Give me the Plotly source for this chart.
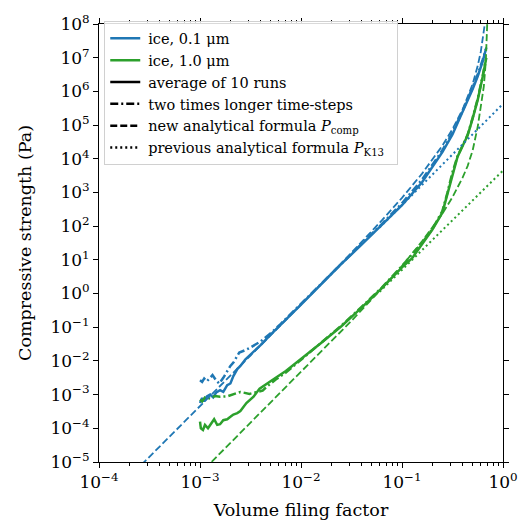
import plotly.graph_objects as go

BLUE = "#1f77b4"
GREEN = "#2ca02c"

# ---- ice 0.1 um : average of 10 runs (solid)
b_avg_x = [1.0e-3, 1.05e-3, 1.10e-3, 1.17e-3, 1.26e-3, 1.35e-3, 1.45e-3, 1.58e-3, 1.70e-3, 1.86e-3,
           2.0e-3, 2.14e-3, 2.34e-3, 2.51e-3, 2.82e-3, 3.16e-3, 3.55e-3, 3.98e-3, 5.01e-3, 6.31e-3,
           1.0e-2, 1.58e-2, 2.51e-2, 3.98e-2, 6.31e-2, 0.1, 0.158, 0.251, 0.316, 0.398, 0.501, 0.562,
           0.631, 0.684]
b_avg_y = [5.6e-4, 7.9e-4, 6.3e-4, 8.9e-4, 1.0e-3, 8.3e-4, 1.17e-3, 1.35e-3, 1.2e-3, 1.9e-3,
           2.14e-3, 3.55e-3, 5.75e-3, 7.08e-3, 1.12e-2, 1.51e-2, 2.19e-2, 2.95e-2, 6.03e-2, 0.117,
           0.468, 1.86, 7.59, 28.2, 105, 417, 2000, 1.58e4, 5.25e4, 2.34e5, 1.17e6, 2.82e6,
           7.94e6, 2.0e7]

# ---- ice 0.1 um : two times longer time-steps (dash-dot)
b_long_x = [1.0e-3, 1.05e-3, 1.10e-3, 1.17e-3, 1.26e-3, 1.33e-3, 1.45e-3, 1.55e-3, 1.70e-3, 1.86e-3,
            2.0e-3, 2.14e-3, 2.45e-3, 2.82e-3, 3.16e-3, 3.98e-3, 5.01e-3, 6.31e-3, 1.0e-2, 1.58e-2,
            2.51e-2, 3.98e-2, 6.31e-2, 0.1, 0.158, 0.251, 0.316, 0.398, 0.501, 0.562, 0.631, 0.676]
b_long_y = [2.69e-3, 2.4e-3, 3.0e-3, 2.5e-3, 3.16e-3, 3.8e-3, 2.6e-3, 2.14e-3, 3.16e-3, 5.0e-3,
            7.1e-3, 8.9e-3, 1.78e-2, 2.1e-2, 2.5e-2, 3.8e-2, 6.6e-2, 0.126, 0.5, 2.0,
            7.9, 30, 115, 479, 2400, 1.78e4, 6.0e4, 2.63e5, 1.32e6, 3.16e6, 8.9e6, 1.78e7]

# ---- ice 1.0 um : average of 10 runs (solid)
g_avg_x = [1.0e-3, 1.02e-3, 1.07e-3, 1.12e-3, 1.20e-3, 1.29e-3, 1.38e-3, 1.48e-3, 1.58e-3, 1.70e-3,
           1.86e-3, 2.0e-3, 2.14e-3, 2.34e-3, 2.51e-3, 2.88e-3, 3.39e-3, 3.89e-3, 4.57e-3, 5.62e-3,
           7.08e-3, 1.0e-2, 1.58e-2, 2.51e-2, 3.98e-2, 6.31e-2, 0.1, 0.126, 0.158, 0.2, 0.251, 0.282,
           0.316, 0.355, 0.398, 0.447, 0.501, 0.562, 0.631, 0.684]
g_avg_y = [1.58e-4, 1.0e-4, 8.9e-5, 1.26e-4, 1.0e-4, 1.41e-4, 1.86e-4, 1.26e-4, 1.32e-4, 1.74e-4,
           1.86e-4, 2.19e-4, 2.57e-4, 2.82e-4, 3.24e-4, 5.62e-4, 8.7e-4, 1.51e-3, 2.14e-3, 3.16e-3,
           5.0e-3, 1.12e-2, 3.4e-2, 0.107, 0.38, 1.45, 6.0, 11.2, 28, 79, 251, 900,
           3800, 1.15e4, 2.4e4, 5.0e4, 1.58e5, 5.6e5, 2.82e6, 1.0e7]

# ---- ice 1.0 um : two times longer time-steps (dash-dot)
g_long_x = [1.0e-3, 1.05e-3, 1.12e-3, 1.26e-3, 1.41e-3, 1.58e-3, 1.86e-3, 2.14e-3, 2.51e-3, 3.09e-3,
            3.39e-3, 4.17e-3, 4.57e-3, 5.62e-3, 7.08e-3, 1.0e-2, 1.58e-2, 2.51e-2, 3.98e-2, 6.31e-2,
            0.1, 0.158, 0.2, 0.251, 0.282, 0.316, 0.355, 0.398, 0.447, 0.501, 0.562, 0.631, 0.676]
g_long_y = [7.1e-4, 6.3e-4, 8.3e-4, 7.6e-4, 9.1e-4, 8.7e-4, 8.9e-4, 1.05e-3, 1.2e-3, 1.05e-3,
            1.12e-3, 1.32e-3, 1.7e-3, 2.8e-3, 4.5e-3, 1.07e-2, 3.55e-2, 0.112, 0.4, 1.5,
            6.6, 31.6, 83, 280, 1000, 4000, 1.2e4, 2.5e4, 5.2e4, 1.66e5, 6.0e5, 3.0e6, 8.9e6]

# ---- new analytical formula P_comp (dashed)
b_comp_x = [1.0e-4, 2.82e-4, 1.0e-3, 3.16e-3, 1.0e-2, 3.16e-2, 6.31e-2, 0.1, 0.158, 0.251, 0.316,
            0.398, 0.501, 0.562, 0.603, 0.631, 0.661, 0.676]
b_comp_y = [4.5e-7, 1.0e-5, 4.47e-4, 1.45e-2, 0.468, 16.2, 148, 692, 3630, 2.45e4, 7.59e4,
            2.88e5, 1.66e6, 5.75e6, 1.51e7, 3.47e7, 1.02e8, 2.1e8]
g_comp_x = [1.0e-4, 1.30e-3, 3.16e-3, 1.0e-2, 3.16e-2, 6.31e-2, 0.1, 0.158, 0.251, 0.316, 0.355,
            0.398, 0.447, 0.501, 0.562, 0.603, 0.646, 0.676, 0.700, 0.708]
g_comp_y = [4.3e-9, 1.0e-5, 1.38e-4, 4.47e-3, 0.155, 1.41, 6.61, 35.5, 234, 724, 1350,
            2750, 6170, 1.78e4, 8.9e4, 3.16e5, 1.41e6, 7.94e6, 1.26e8, 3.2e8]

# ---- previous analytical formula P_K13 (dotted)
b_k13_x = [0.06, 0.1, 0.3, 1.0]
b_k13_y = [91, 427, 1.15e4, 4.27e5]
g_k13_x = [0.06, 0.1, 0.3, 1.0]
g_k13_y = [1.12, 5.0, 129, 4470]

# ---- axes
x_tick_vals = [1e-4, 1e-3, 1e-2, 1e-1, 1e0]
x_tick_text = ["10<sup>−4</sup>", "10<sup>−3</sup>", "10<sup>−2</sup>", "10<sup>−1</sup>", "10<sup>0</sup>"]
y_tick_vals = [1e-5, 1e-4, 1e-3, 1e-2, 1e-1, 1e0, 1e1, 1e2, 1e3, 1e4, 1e5, 1e6, 1e7, 1e8]
y_tick_text = ["10<sup>−5</sup>", "10<sup>−4</sup>", "10<sup>−3</sup>", "10<sup>−2</sup>", "10<sup>−1</sup>",
               "10<sup>0</sup>", "10<sup>1</sup>", "10<sup>2</sup>", "10<sup>3</sup>", "10<sup>4</sup>",
               "10<sup>5</sup>", "10<sup>6</sup>", "10<sup>7</sup>", "10<sup>8</sup>"]

DASH = "7px,3px"
DOT = "2px,3px"
DASHDOT = "8px,3px,2px,3px"

fig = go.Figure()

def add(x, y, color, dash, width):
    fig.add_trace(go.Scatter(x=x, y=y, mode="lines", showlegend=False, hoverinfo="skip",
                             line=dict(color=color, dash=dash, width=width)))

add(b_long_x, b_long_y, BLUE, DASHDOT, 2.5)
add(b_avg_x, b_avg_y, BLUE, "solid", 2.5)
add(g_long_x, g_long_y, GREEN, DASHDOT, 2.5)
add(g_avg_x, g_avg_y, GREEN, "solid", 2.5)
add(b_comp_x, b_comp_y, BLUE, DASH, 1.8)
add(g_comp_x, g_comp_y, GREEN, DASH, 1.8)
add(b_k13_x, b_k13_y, BLUE, DOT, 2)
add(g_k13_x, g_k13_y, GREEN, DOT, 2)

legend_entries = [
    ("ice, 0.1 μm", BLUE, "solid"),
    ("ice, 1.0 μm", GREEN, "solid"),
    ("average of 10 runs", "black", "solid"),
    ("two times longer time-steps", "black", DASHDOT),
    ("new analytical formula <i>P</i><sub>comp</sub>", "black", DASH),
    ("previous analytical formula <i>P</i><sub>K13</sub>", "black", DOT),
]
for name, color, dash in legend_entries:
    fig.add_trace(go.Scatter(x=[None], y=[None], mode="lines", name="\u2009" + name + "\u2002",
                             line=dict(color=color, dash=dash, width=2.5)))

axis_common = dict(
    type="log", showgrid=False, zeroline=False, showline=True, linecolor="black", linewidth=1,
    mirror="allticks", ticks="outside", ticklen=5, tickwidth=1, tickcolor="black",
    tickmode="array", tickfont=dict(family="DejaVu Serif", size=17, color="black"),
)

fig.update_xaxes(range=[-4, 0], tickvals=x_tick_vals, ticktext=x_tick_text,
                 title=dict(text="Volume filing factor", font=dict(family="DejaVu Serif", size=17.5, color="black"), standoff=12),
                 minor=dict(ticks="outside", ticklen=3, tickwidth=1, tickcolor="black", dtick="D1", showgrid=False),
                 **axis_common)
fig.update_yaxes(range=[-5, 8], tickvals=y_tick_vals, ticktext=y_tick_text,
                 title=dict(text="Compressive strength (Pa)", font=dict(family="DejaVu Serif", size=17.5, color="black"), standoff=14),
                 **axis_common)

fig.update_layout(
    width=530, height=529,
    margin=dict(l=99, r=17, t=13, b=67),
    paper_bgcolor="white", plot_bgcolor="white",
    font=dict(family="DejaVu Serif", color="black"),
    legend=dict(x=0.013, y=1.006, xanchor="left", yanchor="top",
                bgcolor="rgba(255,255,255,0.85)", bordercolor="#d0d0d0", borderwidth=1,
                font=dict(family="DejaVu Serif", size=14.5, color="black"),
                itemwidth=30, tracegroupgap=0),
)

fig.write_html("out.html")
